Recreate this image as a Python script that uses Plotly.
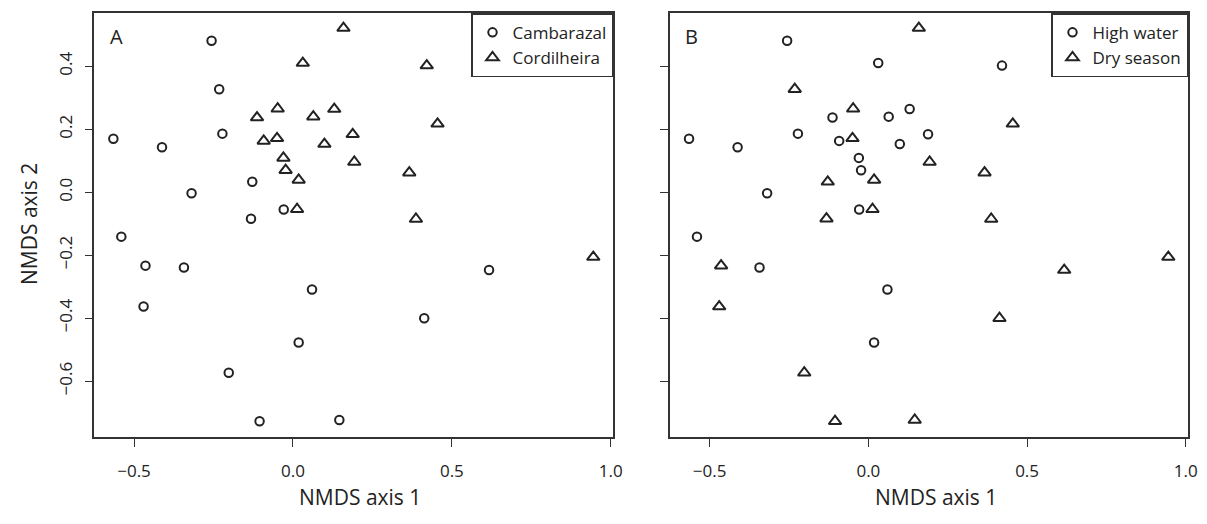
import plotly.graph_objects as go

# NMDS scores of 40 plots (20 Cambarazal, 20 Cordilheira)
nmds1 = [-0.256, -0.232, -0.565, -0.412, -0.222, -0.128, -0.319, -0.029, -0.132, -0.540,
         -0.464, -0.343, -0.470, 0.060, 0.018, -0.202, -0.105, 0.146, 0.617, 0.413,
         0.159, 0.031, -0.048, -0.113, 0.064, 0.130, -0.092, -0.050, 0.099, -0.030,
         -0.023, 0.018, 0.013, 0.421, 0.455, 0.188, 0.193, 0.366, 0.387, 0.945]
nmds2 = [0.481, 0.327, 0.170, 0.143, 0.186, 0.033, -0.003, -0.055, -0.084, -0.141,
         -0.233, -0.239, -0.363, -0.309, -0.477, -0.573, -0.727, -0.723, -0.247, -0.400,
         0.521, 0.410, 0.265, 0.237, 0.240, 0.264, 0.163, 0.171, 0.153, 0.109,
         0.070, 0.039, -0.054, 0.402, 0.217, 0.184, 0.096, 0.062, -0.085, -0.206]
vegetation = ["Cambarazal"] * 20 + ["Cordilheira"] * 20
season = ["High water", "Dry season", "High water", "High water", "High water",
          "Dry season", "High water", "High water", "Dry season", "High water",
          "Dry season", "High water", "Dry season", "High water", "High water",
          "Dry season", "Dry season", "Dry season", "Dry season", "Dry season",
          "Dry season", "High water", "Dry season", "High water", "High water",
          "High water", "High water", "Dry season", "High water", "High water",
          "High water", "Dry season", "Dry season", "High water", "Dry season",
          "High water", "Dry season", "Dry season", "Dry season", "Dry season"]

x_ticks = [-0.5, 0.0, 0.5, 1.0]
x_ticktext = ["\u22120.5", "0.0", "0.5", "1.0"]
y_ticks = [-0.6, -0.4, -0.2, 0.0, 0.2, 0.4]
y_ticktext = ["\u22120.6", "\u22120.4", "\u22120.2", "0.0", "0.2", "0.4"]

FONT = "Open Sans"
INK = "#222222"
LINE = "#333333"

symbols = {"Cambarazal": "circle-open", "Cordilheira": "triangle-up-open",
           "High water": "circle-open", "Dry season": "triangle-up-open"}
sizes = {"circle-open": 8.5, "triangle-up-open": 11}

fig = go.Figure()

def add_group(groups, name, xa, ya, legend):
    xs = [x for x, g in zip(nmds1, groups) if g == name]
    ys = [y for y, g in zip(nmds2, groups) if g == name]
    sym = symbols[name]
    fig.add_trace(go.Scatter(
        x=xs, y=ys, mode="markers", name=name, xaxis=xa, yaxis=ya, legend=legend,
        marker=dict(symbol=sym, size=sizes[sym], color=INK, line=dict(width=2.0, color=INK)),
    ))

add_group(vegetation, "Cambarazal", "x", "y", "legend")
add_group(vegetation, "Cordilheira", "x", "y", "legend")
add_group(season, "High water", "x2", "y2", "legend2")
add_group(season, "Dry season", "x2", "y2", "legend2")

# page has an 8px body margin: the figure is drawn 8px right/down of the window corner
OFF = 8
W, H = 1207 - 2 * OFF, 524 - 2 * OFF

def px(x):
    return (x - OFF) / W

def py(y):
    return (H - (y - OFF)) / H

left_dom = [px(94.3), px(613)]
right_dom = [px(670), px(1188)]
y_dom = [py(437), py(13.3)]
xr = [-0.625, 1.007]
yr = [-0.777, 0.568]

axis_common = dict(showline=True, linecolor=LINE, linewidth=1.6, mirror=True,
                   ticks="outside", ticklen=8, tickwidth=1.4, tickcolor=LINE,
                   showgrid=False, zeroline=False, automargin=False,
                   tickfont=dict(family=FONT, size=17, color=INK))

legend_common = dict(y=y_dom[1], xanchor="right", yanchor="top",
                     bgcolor="white", bordercolor=LINE, borderwidth=1.5,
                     font=dict(family=FONT, size=17, color=INK), tracegroupgap=0,
                     itemwidth=30)

fig.update_layout(
    template="none",
    width=W, height=H,
    margin=dict(l=0, r=0, t=0, b=0, autoexpand=False),
    paper_bgcolor="white", plot_bgcolor="white",
    font=dict(family=FONT, color=INK),
    xaxis=dict(domain=left_dom, range=xr, tickvals=x_ticks, ticktext=x_ticktext,
               anchor="y", ticklabelstandoff=10, **axis_common),
    yaxis=dict(domain=y_dom, range=yr, tickvals=y_ticks, ticktext=y_ticktext,
               anchor="x", tickangle=-90, ticklabelstandoff=6, **axis_common),
    xaxis2=dict(domain=right_dom, range=xr, tickvals=x_ticks, ticktext=x_ticktext,
                anchor="y2", ticklabelstandoff=10, **axis_common),
    yaxis2=dict(domain=y_dom, range=yr, tickvals=y_ticks, showticklabels=False,
                anchor="x2", **axis_common),
    legend=dict(x=left_dom[1], **legend_common),
    legend2=dict(x=right_dom[1], **legend_common),
    showlegend=True,
)

title_font = dict(family=FONT, size=21, color=INK)
base = dict(xref="paper", yref="paper", showarrow=False)
annotations = [
    dict(text="NMDS axis 1", x=px(360), y=py(513), xanchor="center", yanchor="bottom",
         font=title_font, **base),
    dict(text="NMDS axis 1", x=px(936), y=py(513), xanchor="center", yanchor="bottom",
         font=title_font, **base),
    dict(text="NMDS axis 2", x=px(29), y=py(224), xanchor="center", yanchor="middle",
         textangle=-90, font=title_font, **base),
    dict(text="A", x=px(116.7), y=py(36), xanchor="center", yanchor="middle",
         font=dict(family=FONT, size=20, color=INK), **base),
    dict(text="B", x=px(691.7), y=py(36), xanchor="center", yanchor="middle",
         font=dict(family=FONT, size=20, color=INK), **base),
]
fig.update_layout(annotations=annotations)

fig.write_html("out.html")
